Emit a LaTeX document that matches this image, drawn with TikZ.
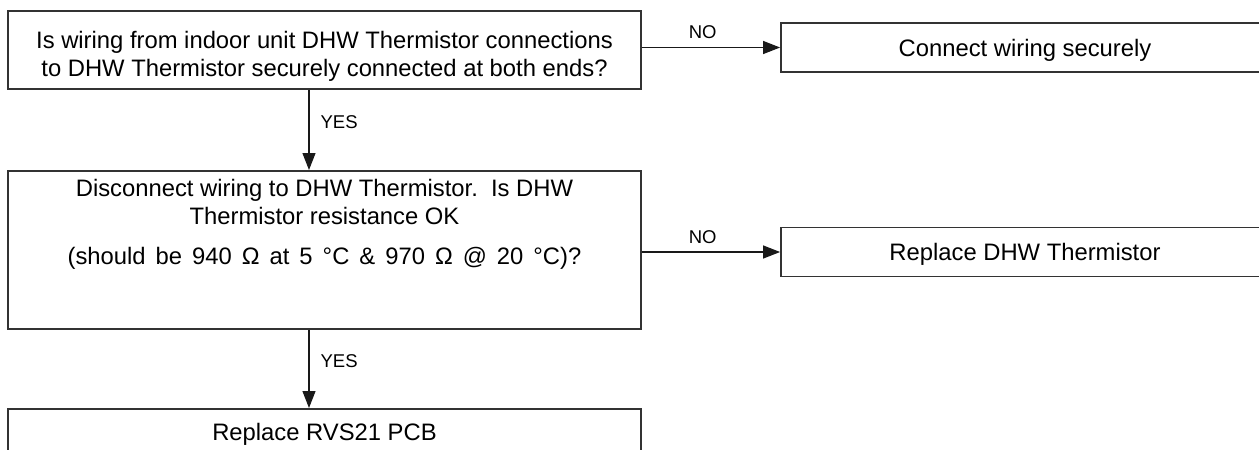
\documentclass[tikz,border=0pt]{standalone}
\usepackage{fontspec}
\setmainfont{Liberation Sans}
\usetikzlibrary{arrows.meta}
\begin{document}
\begin{tikzpicture}[
  x=0.5pt,
  y=-0.5pt,
  box/.style={draw=black!80, line width=0.9pt, inner xsep=0pt, inner ysep=0pt, align=center, font=\fontsize{11.9}{14.3}\selectfont},
  question/.style={box, minimum width=316.5pt, anchor=north},
  action/.style={box, minimum width=244pt, text height=16.5pt, text depth=8pt},
  arr/.style={draw=black!90, line width=0.6pt, -{Triangle[length=8.5pt, width=6.5pt]}},
  yes/.style={anchor=west, pos=0.4, inner sep=0pt, xshift=5.5pt, font=\fontsize{9.25}{11}\selectfont},
  no/.style={anchor=south, pos=0.44, inner sep=0pt, yshift=4pt, font=\fontsize{9.25}{11}\selectfont}
]
\useasboundingbox (0,0) rectangle (1259,450);
\clip (0,0) rectangle (1259,450);

\node[question, text height=33pt, text depth=6pt] (q1) at (324.5,10)
  {Is wiring from indoor unit DHW Thermistor connections\\to DHW Thermistor securely connected at both ends?};
\node[action] (r1) at (1025,47.5) {Connect wiring securely};

\node[question, text height=46.75pt, text depth=32.25pt] (q2) at (324.5,170)
  {Disconnect wiring to DHW Thermistor.\ \ Is DHW\\Thermistor resistance OK\\[5.5pt]{\spaceskip=5pt (should be 940 Ω at 5 °C \& 970 Ω @ 20 °C)?}};
\node[action] (r2) at (1025,252) {Replace DHW Thermistor};

\node[question, text height=15.75pt, text depth=7.25pt] (q3) at (324.5,408) {Replace RVS21 PCB};

\draw[arr] (q1.east |- r1.west) -- (r1.west) node[no] {NO};
\draw[arr] (q2.east |- r2.west) -- (r2.west) node[no] {NO};
\draw[arr] ([xshift=-7.75pt]q1.south) -- ([xshift=-7.75pt]q2.north) node[yes] {YES};
\draw[arr] ([xshift=-7.75pt]q2.south) -- ([xshift=-7.75pt]q3.north) node[yes] {YES};
\end{tikzpicture}
\end{document}
